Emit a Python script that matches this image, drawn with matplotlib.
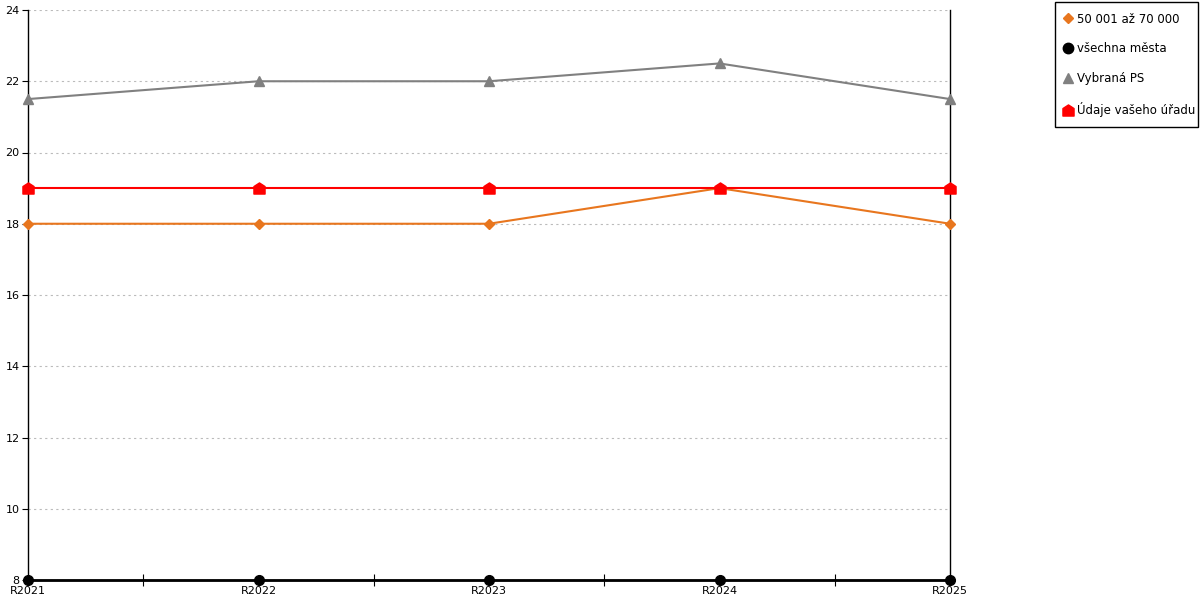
import numpy as np
import matplotlib.pyplot as plt
from matplotlib.path import Path
from matplotlib.lines import Line2D
from matplotlib.patches import Rectangle

# Data
years = ['R2021', 'R2022', 'R2023', 'R2024', 'R2025']
skupina = [18, 18, 18, 19, 18]          # 50 001 až 70 000
vsechna = [8, 8, 8, 8, 8]               # všechna města
vybrana = [21.5, 22, 22, 22.5, 21.5]    # Vybraná PS
urad = [19, 19, 19, 19, 19]             # Údaje vašeho úřadu

# house-shaped marker
house = Path([(-1, -1), (1, -1), (1, 0.35), (0, 1), (-1, 0.35), (-1, -1)],
             [Path.MOVETO, Path.LINETO, Path.LINETO, Path.LINETO, Path.LINETO, Path.CLOSEPOLY])

fig = plt.figure(figsize=(12, 6), dpi=100)
ax = fig.add_axes([28/1200, 20/600, 922/1200, 570/600])
x = np.arange(len(years))

ax.plot(x, vybrana, color='#808080', lw=1.5, marker='^', ms=7, clip_on=False, zorder=3)
ax.plot(x, skupina, color='#E8761E', lw=1.5, marker='D', ms=5, clip_on=False, zorder=4)
ax.plot(x, urad, color='#FF0000', lw=1.5, marker=house, ms=8, clip_on=False, zorder=5)
ax.plot(x, vsechna, color='black', lw=2, marker='o', ms=7, clip_on=False, zorder=6)

ax.set_xlim(0, len(years) - 1)
ax.set_ylim(8, 24)
ax.set_yticks(np.arange(8, 25, 2))
ax.set_xticks(x)
ax.set_xticklabels(years)
ax.set_xticks(x[:-1] + 0.5, minor=True)
ax.tick_params(axis='x', which='major', length=0, pad=4, labelsize=8)
ax.tick_params(axis='x', which='minor', length=8, direction='inout', width=0.8)
ax.tick_params(axis='y', length=4, width=0.8, labelsize=8, pad=2)
ax.grid(axis='y', linestyle=(0, (2, 3)), color='#bbbbbb', lw=0.8)
ax.set_axisbelow(True)

ax.spines['top'].set_visible(False)
for s in ['left', 'right', 'bottom']:
    ax.spines[s].set_color('black')
    ax.spines[s].set_linewidth(1)

handles = [
    Line2D([], [], ls='none', marker='D', ms=5.5, color='#E8761E', label='50 001 až 70 000'),
    Line2D([], [], ls='none', marker='o', ms=7.5, color='black', label='všechna města'),
    Line2D([], [], ls='none', marker='^', ms=7.5, color='#808080', label='Vybraná PS'),
    Line2D([], [], ls='none', marker=house, ms=8, color='#FF0000', label='Údaje vašeho úřadu'),
]
leg = fig.legend(handles=handles, loc='upper left', bbox_to_anchor=(1053/1200, 1 - 2/600),
                 fontsize=8.5, frameon=False,
                 handlelength=0.8, handletextpad=0.3, labelspacing=1.42, borderpad=0.4)

# legend frame
fig.patches.append(Rectangle((1055/1200, 1 - 127/600), 143/1200, 125/600,
                             transform=fig.transFigure, fill=False, edgecolor='black', lw=1))

fig.savefig('out.png', dpi=100)
